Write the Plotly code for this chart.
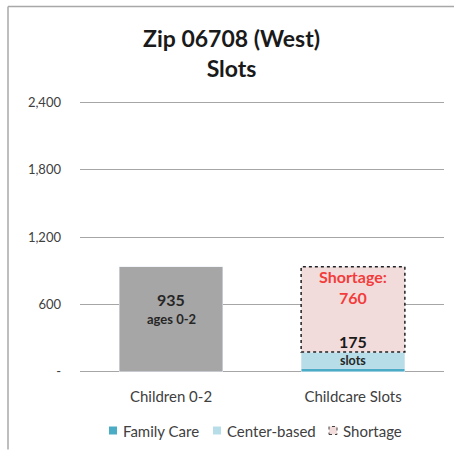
import plotly.graph_objects as go

# Data
categories = ["Children 0-2", "Childcare Slots"]
children_0_2 = [935, None]
family_care = [None, 30]
center_based = [None, 145]
shortage = [None, 760]
tick_vals = [0, 600, 1200, 1800, 2400]
tick_text = ["-", "600", "1,200", "1,800", "2,400"]
legend_names = ["Family Care", "Center-based", "Shortage"]

W, H = 454, 450
Y_MAX = 2400
PAD = 12                      # small range padding so edge gridlines are drawn
TOP_PX, ZERO_PX = 102, 372    # pixel rows of 2,400 and 0
px_per_unit = (ZERO_PX - TOP_PX) / Y_MAX
ML, MR = 80, 10
MT = TOP_PX - PAD * px_per_unit
MB = H - ZERO_PX - PAD * px_per_unit
BAR_W = 0.57
FONT = "Lato, 'Open Sans', Arial, sans-serif"
C_FAMILY, C_CENTER, C_SHORT = "#4bacc6", "#b7dee8", "#f2dcdb"

slots_total = family_care[1] + center_based[1]

fig = go.Figure()
fig.add_trace(go.Bar(x=categories, y=children_0_2, marker=dict(color="#a6a6a6"),
                     name="Children 0-2"))
fig.add_trace(go.Bar(x=categories, y=family_care, name=legend_names[0],
                     marker=dict(color=C_FAMILY)))
fig.add_trace(go.Bar(x=categories, y=center_based, name=legend_names[1],
                     marker=dict(color=C_CENTER)))
fig.add_trace(go.Bar(x=categories, y=shortage, name=legend_names[2],
                     marker=dict(color=C_SHORT)))

# dotted outline around the shortage segment
fig.add_shape(type="rect", xref="x", yref="y",
              x0=1 - BAR_W / 2, x1=1 + BAR_W / 2,
              y0=slots_total, y1=slots_total + shortage[1],
              line=dict(color="#202020", width=1.5, dash="dot"))

# value labels
fig.add_annotation(x=categories[0], y=children_0_2[0], yanchor="top", yshift=-21,
                   text=f"<b>{children_0_2[0]:,}</b>", showarrow=False,
                   font=dict(size=16, color="#262626", family=FONT))
fig.add_annotation(x=categories[0], y=children_0_2[0], yanchor="top", yshift=-42,
                   text="<b>ages 0-2</b>", showarrow=False,
                   font=dict(size=13, color="#262626", family=FONT))
fig.add_annotation(x=categories[1], y=slots_total + shortage[1], yanchor="top", yshift=2,
                   text=f"<b>Shortage:<br>{shortage[1]:,}</b>", showarrow=False,
                   font=dict(size=16, color="#f23c3c", family=FONT))
fig.add_annotation(x=categories[1], y=slots_total, yanchor="bottom", yshift=-1,
                   text=f"<b>{slots_total:,}</b>", showarrow=False,
                   font=dict(size=16, color="#1a1a1a", family=FONT))
fig.add_annotation(x=categories[1], y=slots_total, yanchor="top", yshift=1,
                   text="<b>slots</b>", showarrow=False,
                   font=dict(size=12.5, color="#262626", family=FONT))

# pixel -> paper helpers
pw, ph = W - ML - MR, H - MT - MB
px = lambda p: (p - ML) / pw
py = lambda p: (H - MB - p) / ph

# outer frame (top and left edges)
frame = dict(color="#a8a8a8", width=1.5)
fig.add_shape(type="line", xref="paper", yref="paper",
              x0=px(8), x1=px(W), y0=py(6), y1=py(6), line=frame)
fig.add_shape(type="line", xref="paper", yref="paper",
              x0=px(8), x1=px(8), y0=py(6), y1=py(H), line=frame)

# legend row
LEG_Y = 431
legend_items = [
    (legend_names[0], 109, dict(fillcolor=C_FAMILY, line=dict(width=0))),
    (legend_names[1], 213, dict(fillcolor=C_CENTER, line=dict(width=0))),
    (legend_names[2], 329, dict(fillcolor=C_SHORT, line=dict(color="#404040", width=1, dash="dot"))),
]
for name, sx, style in legend_items:
    fig.add_shape(type="rect", xref="paper", yref="paper",
                  x0=px(sx), x1=px(sx + 8), y0=py(LEG_Y + 4), y1=py(LEG_Y - 4), **style)
    fig.add_annotation(x=px(sx + 12), y=py(LEG_Y), xref="paper", yref="paper",
                       xanchor="left", yanchor="middle", text=name, showarrow=False,
                       font=dict(size=15, color="#404040", family=FONT))

fig.update_layout(
    width=W, height=H,
    margin=dict(l=ML, r=MR, t=MT, b=MB, autoexpand=False),
    paper_bgcolor="white", plot_bgcolor="white",
    barmode="stack", bargap=1 - BAR_W, showlegend=False,
    font=dict(family=FONT, color="#404040", size=13),
    title=dict(text="<b>Zip 06708 (West)<br>Slots</b>", x=0.51, xanchor="center",
               y=1 - 47 / H, yanchor="middle",
               font=dict(size=23, color="#1a1a1a", family=FONT)),
    xaxis=dict(showgrid=False, showline=False, ticks="", ticklabelstandoff=13,
               tickfont=dict(size=15, color="#404040")),
    yaxis=dict(range=[-PAD, Y_MAX + PAD], tickvals=tick_vals, ticktext=tick_text,
               showgrid=True, gridcolor="#a6a6a6", gridwidth=1, zeroline=False,
               showline=False, ticklabelstandoff=18,
               tickfont=dict(size=13, color="#404040")),
)

fig.write_html("out.html")
